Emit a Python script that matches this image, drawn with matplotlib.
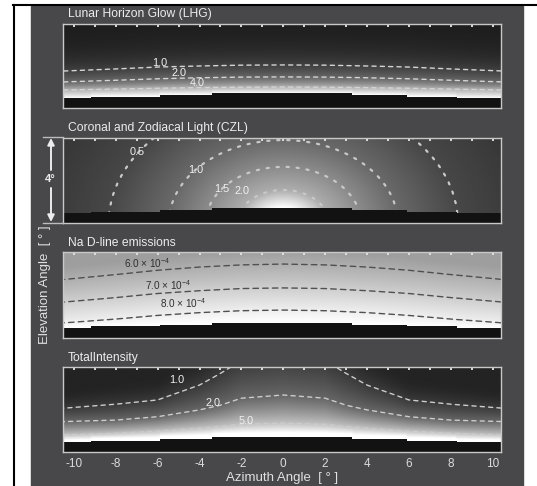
import numpy as np
import matplotlib
matplotlib.use('Agg')
import matplotlib.pyplot as plt
from matplotlib.patches import Rectangle
from matplotlib.lines import Line2D

plt.rcParams['font.family'] = ['Liberation Sans', 'DejaVu Sans']
plt.rcParams['mathtext.fontset'] = 'custom'
plt.rcParams['mathtext.rm'] = 'Liberation Sans'
plt.rcParams['mathtext.it'] = 'Liberation Sans:italic'
plt.rcParams['axes.unicode_minus'] = False

az_pts = [-10.5, -8, -6, -4, -2, 0, 2, 4, 6, 8, 10.5]

# lunar horizon, stepped terrain (segment start azimuth, elevation deg)
horizon_az = [-10.5, -9.2, -5.9, -3.4, 3.3, 5.9, 8.3, 10.5]
horizon_el = [0.46, 0.54, 0.62, 0.70, 0.62, 0.54, 0.46, 0.46]

# Lunar Horizon Glow: contour levels and their elevation along az_pts
lhg_levels = [4.0, 2.0, 1.0]
lhg_el_40 = [0.86, 0.90, 0.94, 0.97, 0.99, 1.00, 0.99, 0.97, 0.94, 0.90, 0.86]
lhg_el_20 = [1.24, 1.32, 1.39, 1.44, 1.47, 1.48, 1.47, 1.44, 1.39, 1.32, 1.24]
lhg_el_10 = [1.76, 1.86, 1.95, 2.00, 2.04, 2.05, 2.04, 2.00, 1.95, 1.86, 1.76]
lhg_horizon_value = 6.0

# Coronal and Zodiacal Light: arcs around the sun below the horizon
czl_levels = [3.2, 2.0, 1.5, 1.0, 0.5, 0.2]
czl_radius = [0.7, 1.55, 2.64, 3.9, 5.95, 9.0]   # peak elevation of each arc at az=0
czl_aspect = 1.4

# Na D-line emissions
na_levels = [8.0e-4, 7.0e-4, 6.0e-4]
na_el_8 = [0.70, 0.88, 1.05, 1.18, 1.27, 1.30, 1.27, 1.18, 1.05, 0.88, 0.70]
na_el_7 = [1.67, 1.88, 2.07, 2.20, 2.30, 2.33, 2.30, 2.20, 2.07, 1.88, 1.67]
na_el_6 = [2.72, 2.95, 3.15, 3.30, 3.40, 3.44, 3.40, 3.30, 3.15, 2.95, 2.72]
na_horizon_value = 8.5e-4

# Total intensity
tot_az = [-10.5, -8, -6, -4, -3, -2, 0, 2, 3, 4, 6, 8, 10.5]
tot_levels = [5.0, 2.0, 1.0]
tot_el_5 = [0.80, 0.88, 0.98, 1.12, 1.20, 1.30, 1.36, 1.30, 1.20, 1.12, 0.98, 0.88, 0.80]
tot_el_2 = [1.43, 1.50, 1.66, 1.98, 2.20, 2.53, 2.68, 2.53, 2.20, 1.98, 1.66, 1.50, 1.43]
tot_el_1 = [2.06, 2.25, 2.45, 3.15, 3.70, 4.30, 4.60, 4.30, 3.70, 3.15, 2.45, 2.25, 2.06]
tot_horizon_value = 10.0

XLIM = (-10.52, 10.4)
az_grid = np.linspace(XLIM[0], XLIM[1], 440)
el_grid = np.linspace(0, 4, 220)
AZ, EL = np.meshgrid(az_grid, el_grid)

# horizon height under every image column (same steps as the black ground)
seg_idx = np.clip(np.searchsorted(horizon_az, az_grid, side='right') - 1, 0, len(horizon_el) - 1)
hz_col = np.array(horizon_el)[seg_idx]


def column_field(xs, el_lists, values, base_value):
    H = [hz_col] + [np.interp(az_grid, xs, e) for e in el_lists]
    V = np.log([base_value] + list(values))
    out = np.empty(AZ.shape)
    for j in range(len(az_grid)):
        h = np.array([hh[j] for hh in H])
        col = np.interp(el_grid, h, V)
        slope = (V[-1] - V[-2]) / (h[-1] - h[-2])
        above = el_grid > h[-1]
        col[above] = V[-1] + slope * (el_grid[above] - h[-1])
        out[:, j] = col
    return np.exp(out)


def shade(v, lo, hi, b_lo, gamma=1.0):
    x = np.clip((v - lo) / (hi - lo), 0, 1)
    return b_lo + (1 - b_lo) * x ** gamma


lhg = column_field(az_pts, [lhg_el_40, lhg_el_20, lhg_el_10], lhg_levels, lhg_horizon_value)
czl_r = np.sqrt((AZ / czl_aspect) ** 2 + EL ** 2)
czl = np.interp(czl_r, czl_radius, czl_levels)
na = column_field(az_pts, [na_el_8, na_el_7, na_el_6], na_levels, na_horizon_value)
tot = column_field(tot_az, [tot_el_5, tot_el_2, tot_el_1], tot_levels, tot_horizon_value)

panels = [
    dict(title='Lunar Horizon Glow (LHG)', field=lhg,
         img=shade(lhg, 0.08, 6.0, 0.12),
         levels=[1.0, 2.0, 4.0], color='#d4d4d4', ls=(0, (3, 3)), lw=1.0,
         labels=[('1.0', -5.9, 2.16), ('2.0', -5.0, 1.68), ('4.0', -4.1, 1.20)],
         lcolor='#f0f0f0'),
    dict(title='Coronal and Zodiacal Light (CZL)', field=czl,
         img=shade(czl, 0.2, 3.2, 0.2),
         levels=[0.5, 1.0, 1.5, 2.0], color='#c8c8c8', ls=(0, (1, 3.5)), lw=1.6,
         labels=[('0.5', -7.0, 3.34), ('1.0', -4.2, 2.49), ('1.5', -2.95, 1.58), ('2.0', -1.95, 1.50)],
         lcolor='#f0f0f0'),
    dict(title='Na D-line emissions', field=na,
         img=shade(na, 5.5e-4, 8.5e-4, 0.62),
         levels=[6.0e-4, 7.0e-4, 8.0e-4], color='#505050', ls=(0, (4, 3)), lw=1.0,
         labels=[(r'6.0 $\times$ 10$^{-4}$', -6.5, 3.49), (r'7.0 $\times$ 10$^{-4}$', -5.5, 2.47),
                 (r'8.0 $\times$ 10$^{-4}$', -4.8, 1.63)],
         lcolor='#303030'),
    dict(title='TotalIntensity', field=tot,
         img=shade(np.log(tot), -0.9, 2.1, 0.14, 1.9),
         levels=[1.0, 2.0, 5.0], color='#cccccc', ls=(0, (3, 3)), lw=1.0,
         labels=[('1.0', -5.1, 3.39), ('2.0', -3.35, 2.30), ('5.0', -1.75, 1.46)],
         lcolor='#f0f0f0'),
]

W, H = 537, 486
fig = plt.figure(figsize=(W / 100, H / 100), dpi=100)
fig.patch.set_facecolor('white')
fig.patches.append(Rectangle((31 / W, 0), (523 - 31) / W, (H - 6) / H,
                             transform=fig.transFigure, color='#48484a', zorder=-5))
fig.add_artist(Line2D([14 / W, 14 / W], [0, 1 - 5 / H], color='black', lw=1.5, zorder=-4))
fig.add_artist(Line2D([13 / W, 1], [1 - 5 / H, 1 - 5 / H], color='black', lw=1.5, zorder=-4))

boxes = [(24, 108), (138, 223), (252, 338), (367, 452)]
axes = []
for p, (top, bot) in zip(panels, boxes):
    ax = fig.add_axes([63 / W, 1 - bot / H, (501 - 63) / W, (bot - top) / H])
    axes.append(ax)
    ax.imshow(p['img'], cmap='gray', vmin=0, vmax=1, origin='lower', aspect='auto',
              extent=[XLIM[0], XLIM[1], 0, 4], interpolation='bilinear', zorder=0)
    cs = ax.contour(AZ, EL, p['field'], levels=p['levels'], colors=p['color'],
                    linewidths=p['lw'], zorder=1.5)
    cs.set_linestyle(p['ls'])
    cs.set_capstyle('round')
    ax.fill_between(horizon_az, 0, horizon_el, step='post', color='#121212',
                    lw=0, zorder=1.8)
    for txt, x, y in p['labels']:
        ax.text(x, y, txt, color=p['lcolor'], fontsize=7.8 if '$' not in txt else 7.2,
                ha='center', va='center', zorder=3)
    ax.set_xlim(XLIM)
    ax.set_ylim(0, 4)
    ax.set_yticks([])
    ax.set_xticks(np.arange(-10, 11, 2))
    ax.set_xticks(np.arange(-9, 10, 2), minor=True)
    ax.tick_params(which='both', direction='in', top=True, bottom=True, length=2.5,
                   width=1.3, color='#e6e6e6', labelcolor='#dcdcdc', labelsize=8.5,
                   labelbottom=False, pad=4)
    for s in ax.spines.values():
        s.set_color('#c8c8c8')
        s.set_linewidth(1.0)
    ax.annotate(p['title'], xy=(0, 1), xycoords='axes fraction', xytext=(5, 9.5),
                textcoords='offset pixels', color='#ececec', fontsize=8.7,
                ha='left', va='center')

axes[-1].tick_params(labelbottom=True)
fig.text(282 / W, 1 - 478 / H, 'Azimuth Angle  [ \u00b0 ]', color='#e0e0e0',
         fontsize=9.5, ha='center', va='center')
fig.text(45 / W, 1 - 285 / H, 'Elevation Angle  [ \u00b0 ]', color='#e0e0e0',
         fontsize=9.5, ha='center', va='center', rotation=90)

# 4 degree scale arrow beside the CZL panel
arrow_c = '#ececec'
a2 = axes[1]
for y0, y1 in [(H - 170, H - 138), (H - 188, H - 222)]:
    a2.annotate('', xy=(51, y1), xytext=(51, y0), xycoords='figure pixels',
                textcoords='figure pixels', annotation_clip=False,
                arrowprops=dict(arrowstyle='-|>', color=arrow_c, lw=1.4,
                                mutation_scale=10, shrinkA=0, shrinkB=0))
for yy in (137, 223):
    fig.add_artist(Line2D([43 / W, 63 / W], [1 - yy / H] * 2, color='#bdbdbd', lw=1.0))
fig.text(50 / W, 1 - 179 / H, '4\u00b0', color=arrow_c, fontsize=8, fontweight='bold',
         ha='center', va='center')

fig.savefig('out.png', dpi=100)
